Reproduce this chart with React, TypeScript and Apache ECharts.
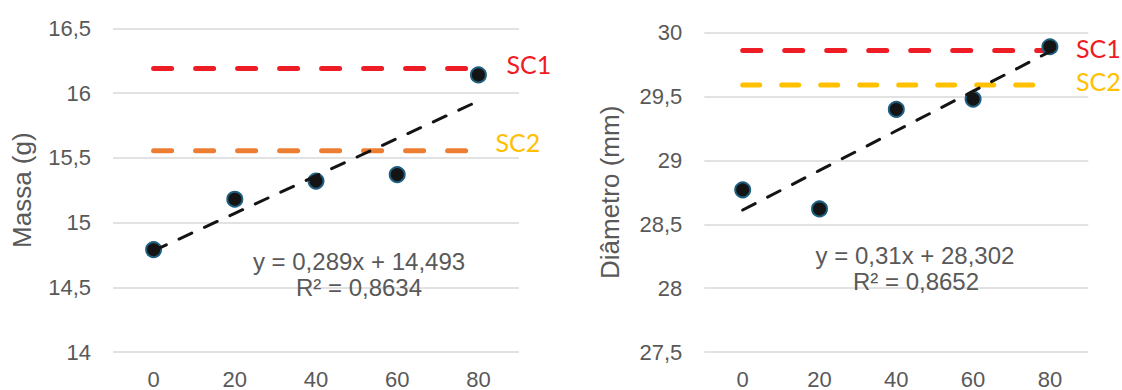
import React, { useEffect, useRef } from "react";
import * as echarts from "echarts";

const categories = ["0", "20", "40", "60", "80"];

const massaValues = [14.79, 15.18, 15.32, 15.37, 16.14];
const massaSC1 = 16.19;
const massaSC2 = 15.555;
const massaSlope = 0.289;
const massaIntercept = 14.493;
const massaR2 = "0,8634";

const diamValues = [28.77, 28.62, 29.4, 29.48, 29.89];
const diamSC1 = 29.86;
const diamSC2 = 29.59;
const diamSlope = 0.31;
const diamIntercept = 28.302;
const diamR2 = "0,8652";

const massaTicks = { min: 14, max: 16.5, interval: 0.5 };
const diamTicks = { min: 27.5, max: 30, interval: 0.5 };

const GRAY = "#595959";
const RED = "#EE1C25";
const ORANGE = "#ED7D31";
const GOLD = "#FFC000";
const ARIAL = "'Liberation Sans', Arial, sans-serif";
const CALIBRI = "Lato, 'Open Sans', sans-serif";

const fmt = (v: number) => String(v).replace(".", ",");
const fmtCoef = (v: number) => String(v).replace(".", ",");

function trend(slope: number, intercept: number) {
  return categories.map((_, i) => +(slope * (i + 1) + intercept).toFixed(4));
}

function constLine(v: number) {
  return categories.map(() => v);
}

export default function App() {
  const ref = useRef<HTMLDivElement>(null);

  useEffect(() => {
    if (!ref.current) return;
    const chart = echarts.init(ref.current, undefined, { renderer: "svg" });

    const xAxisBase = {
      type: "category" as const,
      data: categories,
      boundaryGap: true,
      axisLine: { show: false },
      axisTick: { show: false },
      axisLabel: { color: GRAY, fontSize: 22, fontFamily: ARIAL, margin: 16 },
      splitLine: { show: false },
    };
    const yAxisBase = {
      type: "value" as const,
      axisLine: { show: false },
      axisTick: { show: false },
      axisLabel: {
        color: GRAY,
        fontSize: 22,
        fontFamily: ARIAL,
        margin: 22,
        formatter: (v: number) => fmt(v),
      },
      splitLine: { show: true, lineStyle: { color: "#D9D9D9", width: 1.5 } },
      nameLocation: "middle" as const,
      nameRotate: 90,
      nameTextStyle: { color: GRAY, fontSize: 26, fontFamily: ARIAL },
    };

    const scLine = (
      idx: number,
      name: string,
      value: number,
      color: string,
      labelColor: string,
      distance: number,
      dy: number,
      dash: number[]
    ) => ({
      type: "line",
      name,
      xAxisIndex: idx,
      yAxisIndex: idx,
      data: constLine(value),
      symbol: "none",
      z: 2,
      lineStyle: { color, width: 5, type: dash, cap: "round" },
      endLabel: {
        show: true,
        formatter: name,
        color: labelColor,
        fontSize: 25,
        fontFamily: CALIBRI,
        distance,
        offset: [0, dy],
      },
      silent: true,
    });

    const points = (idx: number, data: number[]) => ({
      type: "scatter",
      xAxisIndex: idx,
      yAxisIndex: idx,
      data,
      symbol: "circle",
      symbolSize: 15,
      z: 3,
      itemStyle: { color: "#141414", borderColor: "#1F5F80", borderWidth: 2, opacity: 1 },
    });

    const trendLine = (idx: number, data: number[]) => ({
      type: "line",
      xAxisIndex: idx,
      yAxisIndex: idx,
      data,
      symbol: "none",
      z: 4,
      lineStyle: { color: "#141414", width: 3, type: [14, 14], cap: "round" },
      silent: true,
    });

    const eqText = (x: number, y: number, text: string) => ({
      type: "text",
      x,
      y,
      style: {
        text,
        fill: GRAY,
        fontSize: 24,
        fontFamily: ARIAL,
        textAlign: "center",
        textVerticalAlign: "middle",
      },
      z: 10,
    });

    chart.setOption({
      animation: false,
      backgroundColor: "#ffffff",
      grid: [
        { left: 113, top: 28.3, width: 406, height: 324.4 },
        { left: 704.3, top: 32.7, width: 384, height: 320 },
      ],
      xAxis: [
        { ...xAxisBase, gridIndex: 0 },
        { ...xAxisBase, gridIndex: 1 },
      ],
      yAxis: [
        { ...yAxisBase, gridIndex: 0, ...massaTicks, name: "Massa (g)", nameGap: 78 },
        { ...yAxisBase, gridIndex: 1, ...diamTicks, name: "Diâmetro (mm)", nameGap: 81 },
      ],
      series: [
        scLine(0, "SC1", massaSC1, RED, RED, 28, -4, [18, 24]),
        scLine(0, "SC2", massaSC2, ORANGE, GOLD, 17, -9, [18, 24]),
        points(0, massaValues),
        trendLine(0, trend(massaSlope, massaIntercept)),
        scLine(1, "SC1", diamSC1, RED, RED, 26, -3, [18, 24]),
        scLine(1, "SC2", diamSC2, GOLD, GOLD, 26, -4, [17, 22]),
        points(1, diamValues),
        trendLine(1, trend(diamSlope, diamIntercept)),
      ],
      graphic: [
        eqText(359, 261, `y = ${fmtCoef(massaSlope)}x + ${fmtCoef(massaIntercept)}`),
        eqText(359, 287.5, `R² = ${massaR2}`),
        eqText(915, 255, `y = ${fmtCoef(diamSlope)}x + ${fmtCoef(diamIntercept)}`),
        eqText(916, 281.7, `R² = ${diamR2}`),
      ],
    });

    return () => chart.dispose();
  }, []);

  return (
    <div
      ref={ref}
      style={{ position: "fixed", left: 0, top: 0, width: 1122, height: 390, background: "#fff" }}
    />
  );
}
